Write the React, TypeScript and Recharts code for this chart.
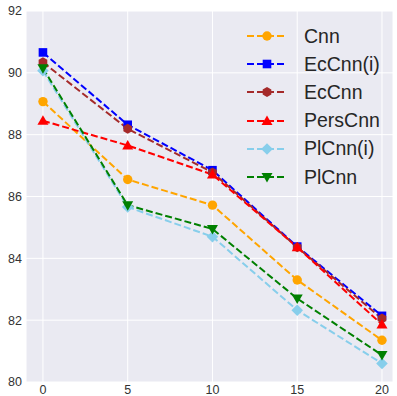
import React from "react"
import { CartesianGrid, Line, LineChart, XAxis, YAxis } from "recharts"

const steps = [0, 5, 10, 15, 20]
const cnn = [89.07, 86.55, 85.72, 83.3, 81.35]
const ecCnnI = [90.66, 88.32, 86.85, 84.38, 82.14]
const ecCnn = [90.34, 88.19, 86.78, 84.36, 82.05]
const persCnn = [88.45, 87.65, 86.71, 84.36, 81.86]
const plCnnI = [90.07, 85.66, 84.7, 82.32, 80.6]
const plCnn = [90.15, 85.72, 84.95, 82.7, 80.87]
const yTicks = [80, 82, 84, 86, 88, 90, 92]

type Shape = "circle" | "square" | "hexagon" | "triUp" | "diamond" | "triDown"

const series: { key: string; name: string; color: string; shape: Shape; values: number[] }[] = [
  { key: "cnn", name: "Cnn", color: "#FFA500", shape: "circle", values: cnn },
  { key: "ecCnnI", name: "EcCnn(i)", color: "#0000FF", shape: "square", values: ecCnnI },
  { key: "ecCnn", name: "EcCnn", color: "#A52A2A", shape: "hexagon", values: ecCnn },
  { key: "persCnn", name: "PersCnn", color: "#FF0000", shape: "triUp", values: persCnn },
  { key: "plCnnI", name: "PlCnn(i)", color: "#87CEEB", shape: "diamond", values: plCnnI },
  { key: "plCnn", name: "PlCnn", color: "#008000", shape: "triDown", values: plCnn },
]

const data = steps.map((x, i) => {
  const row: Record<string, number> = { x }
  series.forEach((s) => (row[s.key] = s.values[i]))
  return row
})

function Marker({ cx, cy, shape, color }: { cx: number; cy: number; shape: Shape; color: string }) {
  if (cx == null || cy == null) return null
  switch (shape) {
    case "circle":
      return <circle cx={cx} cy={cy} r={4.7} fill={color} />
    case "square":
      return <rect x={cx - 4.3} y={cy - 4.3} width={8.6} height={8.6} fill={color} />
    case "hexagon": {
      const r = 5
      const pts = [0, 1, 2, 3, 4, 5]
        .map((k) => {
          const a = (Math.PI / 3) * k - Math.PI / 2
          return `${cx + r * Math.cos(a)},${cy + r * Math.sin(a)}`
        })
        .join(" ")
      return <polygon points={pts} fill={color} />
    }
    case "triUp":
      return <polygon points={`${cx},${cy - 5.5} ${cx + 5.5},${cy + 4} ${cx - 5.5},${cy + 4}`} fill={color} />
    case "triDown":
      return <polygon points={`${cx},${cy + 5.5} ${cx + 5.5},${cy - 4} ${cx - 5.5},${cy - 4}`} fill={color} />
    case "diamond":
      return <polygon points={`${cx},${cy - 5.8} ${cx + 5.8},${cy} ${cx},${cy + 5.8} ${cx - 5.8},${cy}`} fill={color} />
  }
  return null
}

// matplotlib-style legend, drawn over the plot without taking any room from it
function ChartLegend() {
  return (
    <div style={{ position: "absolute", left: 247, top: 22 }}>
      {series.map((s) => (
        <div key={s.key} style={{ display: "flex", alignItems: "center", height: 28.2 }}>
          <svg width={40} height={20} style={{ overflow: "visible" }}>
            <line x1={0} y1={10} x2={40} y2={10} stroke={s.color} strokeWidth={2} strokeDasharray="7 3" />
            <Marker cx={20} cy={10} shape={s.shape} color={s.color} />
          </svg>
          <span style={{ marginLeft: 17, fontSize: 19.5, color: "#262626", fontFamily: "Liberation Sans, Arial, sans-serif" }}>
            {s.name}
          </span>
        </div>
      ))}
    </div>
  )
}

export default function App() {
  const tick = { fill: "#333333", fontSize: 12.5, fontFamily: "Liberation Sans, Arial, sans-serif" }
  return (
    <div style={{ position: "absolute", left: 0, top: 0, width: 397, height: 396, background: "#ffffff" }}>
      <LineChart width={397} height={396} data={data} margin={{ top: 11, right: 4, bottom: 0, left: 0 }}>
        <CartesianGrid stroke="#ffffff" strokeWidth={1} fill="#EAEAF2" fillOpacity={1} />
        <XAxis
          type="number"
          dataKey="x"
          domain={[-1, 20.65]}
          ticks={steps}
          allowDataOverflow
          axisLine={false}
          tickLine={false}
          tickSize={0}
          tickMargin={3}
          height={14}
          tick={tick}
        />
        <YAxis
          type="number"
          domain={[80, 92]}
          ticks={yTicks}
          axisLine={false}
          tickLine={false}
          tickSize={0}
          tickMargin={4}
          width={26}
          tick={tick}
        />
        {series.map((s) => (
          <Line
            key={s.key}
            dataKey={s.key}
            name={s.name}
            stroke={s.color}
            strokeWidth={2}
            strokeDasharray="7 3"
            isAnimationActive={false}
            dot={(p: any) => <Marker key={`${s.key}-${p.index}`} cx={p.cx} cy={p.cy} shape={s.shape} color={s.color} />}
            activeDot={false}
          />
        ))}
      </LineChart>
      <ChartLegend />
    </div>
  )
}
